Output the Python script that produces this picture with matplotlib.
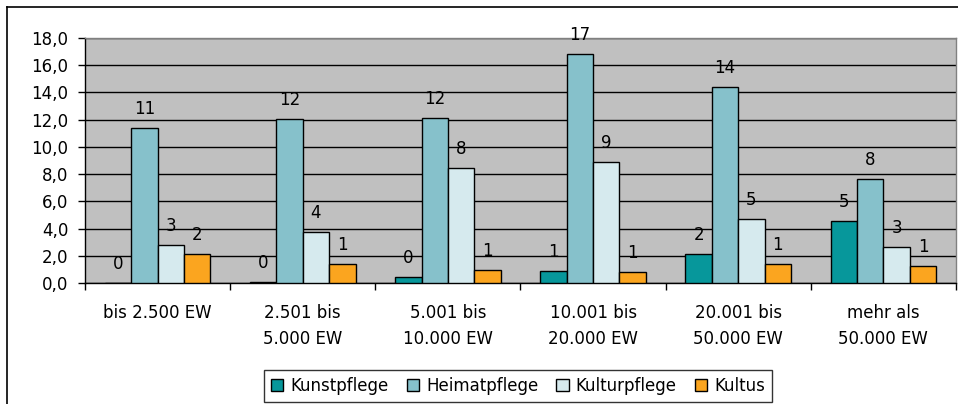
import matplotlib
matplotlib.use("Agg")
import matplotlib.pyplot as plt
import numpy as np
from matplotlib.lines import Line2D
from matplotlib.ticker import FixedLocator, NullFormatter

plt.rcParams['font.family'] = ['DejaVu Sans']

categories = ["bis 2.500 EW", "2.501 bis\n5.000 EW", "5.001 bis\n10.000 EW",
              "10.001 bis\n20.000 EW", "20.001 bis\n50.000 EW", "mehr als\n50.000 EW"]
series_names = ["Kunstpflege", "Heimatpflege", "Kulturpflege", "Kultus"]
kunstpflege = [0.0, 0.1, 0.44, 0.86, 2.13, 4.53]
heimatpflege = [11.42, 12.06, 12.15, 16.8, 14.4, 7.65]
kulturpflege = [2.79, 3.77, 8.45, 8.92, 4.73, 2.67]
kultus = [2.13, 1.37, 0.95, 0.83, 1.4, 1.27]
colors = ["#07979B", "#86C1CB", "#D6EAEE", "#FBA51F"]
yticks = [0, 2, 4, 6, 8, 10, 12, 14, 16, 18]

FS = 12
W, H = 958, 404
fig = plt.figure(figsize=(W / 100, H / 100), dpi=100)
ax = fig.add_axes([85 / W, 1 - 283 / H, (956 - 85) / W, (283 - 38) / H])
ax.set_facecolor("#C0C0C0")

n = len(categories)
x = np.arange(n)
bw = 1 / 5.5
data = [kunstpflege, heimatpflege, kulturpflege, kultus]
for i, (vals, c, name) in enumerate(zip(data, colors, series_names)):
    pos = x + (i - 1.5) * bw
    ax.bar(pos, vals, width=bw, color=c, edgecolor="black", linewidth=1.0,
           label=name, zorder=3)
    for xp, v in zip(pos, vals):
        ax.annotate(f"{v:.0f}", (xp, v), xytext=(0, 10), textcoords="offset points",
                    ha="center", va="baseline", fontsize=FS, zorder=4)

ax.set_xlim(-0.5, n - 0.5)
ax.set_ylim(0, 18)
ax.set_yticks(yticks)
ax.set_yticklabels([f"{t:.1f}".replace(".", ",") for t in yticks], fontsize=FS)
ax.yaxis.grid(True, color="black", linewidth=1.0, zorder=1)
ax.set_axisbelow(True)

ax.xaxis.set_major_locator(FixedLocator(np.arange(n + 1) - 0.5))
ax.xaxis.set_major_formatter(NullFormatter())
ax.xaxis.set_minor_locator(FixedLocator(x))
ax.set_xticklabels(categories, minor=True, fontsize=FS, linespacing=1.55)
ax.tick_params(axis="x", which="minor", length=0, pad=15)
ax.tick_params(axis="x", which="major", length=5, width=1, color="black", direction="out")
ax.tick_params(axis="y", length=5, width=1, color="black", pad=7)

for s in ["top", "right"]:
    ax.spines[s].set_color("#808080")
    ax.spines[s].set_linewidth(1.0)
for s in ["left", "bottom"]:
    ax.spines[s].set_color("black")
    ax.spines[s].set_linewidth(1.0)

leg = fig.legend(loc="center", bbox_to_anchor=((259 + 777) / 2 / W, 1 - 386 / H),
                 ncol=4, fontsize=FS, frameon=True, fancybox=False,
                 handlelength=0.75, handleheight=0.75, handletextpad=0.4, columnspacing=1.1,
                 borderpad=0.4, borderaxespad=0)
leg.get_frame().set_edgecolor("black")
leg.get_frame().set_linewidth(1.0)

# outer chart frame
fig.add_artist(Line2D([7 / W, 7 / W], [0, 1 - 7 / H], transform=fig.transFigure, color="black", lw=1.2))
fig.add_artist(Line2D([7 / W, 1], [1 - 7 / H, 1 - 7 / H], transform=fig.transFigure, color="black", lw=1.2))

fig.savefig("out.png", dpi=100)
